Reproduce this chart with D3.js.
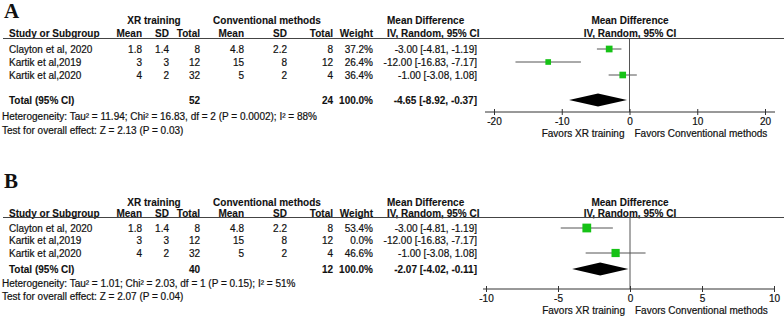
<!DOCTYPE html>
<html>
<head>
<meta charset="utf-8">
<script src="https://d3js.org/d3.v7.min.js"></script>
<style>
  body { margin: 0; background: #fff; }
  svg text { font-family: "Liberation Sans", Arial, sans-serif; font-size: 10px; fill: #111; stroke: #111; stroke-width: 0.2px; }
  .hd { font-weight: bold; stroke-width: 0.1px; }
</style>
</head>
<body>
<div id="chart"></div>
<script>

// study rows (same for both panels)
var studies = ["Clayton et al, 2020", "Kartik et al,2019", "Kartik et al,2020"];
var xrMean = [1.8, 3, 4];
var xrSD = [1.4, 3, 2];
var xrTotal = [8, 12, 32];
var convMean = [4.8, 15, 5];
var convSD = [2.2, 8, 2];
var convTotal = [8, 12, 4];
var md = [-3.00, -12.00, -1.00];
var mdLow = [-4.81, -16.83, -3.08];
var mdHigh = [-1.19, -7.17, 1.08];

// panel A
var weightA = [37.2, 26.4, 36.4];
var totalA = [-4.65, -8.92, -0.37];
var nTotalA = [52, 24];
var hetA = "Heterogeneity: Tau² = 11.94; Chi² = 16.83, df = 2 (P = 0.0002); I² = 88%";
var testA = "Test for overall effect: Z = 2.13 (P = 0.03)";
var ticksA = [-20, -10, 0, 10, 20];

// panel B
var weightB = [53.4, 0.0, 46.6];
var totalB = [-2.07, -4.02, -0.11];
var nTotalB = [40, 12];
var hetB = "Heterogeneity: Tau² = 1.01; Chi² = 2.03, df = 1 (P = 0.15); I² = 51%";
var testB = "Test for overall effect: Z = 2.07 (P = 0.04)";
var ticksB = [-10, -5, 0, 5, 10];

var W = 784, H = 316;
var svg = d3.select("#chart").append("svg")
    .attr("width", W)
    .attr("height", H);

var fmt1 = function(v) { return String(v); };
var f2 = function(v) { return d3.format(".2f")(v).replace("−", "-"); };
var fmtMD = function(m, l, h) { return f2(m) + " [" + f2(l) + ", " + f2(h) + "]"; };

// right edges of the table columns
var col = { xrMean: 142, xrSD: 169, xrTotal: 200, cMean: 244, cSD: 287, cTotal: 333, weight: 373, md: 477 };

function panel(p) {
  var g = svg.append("g");

  g.append("text")
    .attr("x", 4).attr("y", p.letterY)
    .style("font-family", "'Liberation Serif', 'Times New Roman', serif")
    .style("font-size", "21px").style("font-weight", "bold").style("stroke-width", "0")
    .text(p.letter);

  // headers
  var h1 = p.head1, h2 = p.head2;
  g.append("text").attr("class", "hd").attr("x", 154).attr("y", h1).attr("dy", "0.35em").attr("text-anchor", "middle").text("XR training");
  g.append("text").attr("class", "hd").attr("x", 267).attr("y", h1).attr("dy", "0.35em").attr("text-anchor", "middle").text("Conventional methods");
  g.append("text").attr("class", "hd").attr("x", 387).attr("y", h1).attr("dy", "0.35em").text("Mean Difference");
  g.append("text").attr("class", "hd").attr("x", 630).attr("y", h1).attr("dy", "0.35em").attr("text-anchor", "middle").text("Mean Difference");

  g.append("text").attr("class", "hd").attr("x", 9).attr("y", h2).attr("dy", "0.35em").text("Study or Subgroup");
  [["Mean", col.xrMean], ["SD", col.xrSD], ["Total", col.xrTotal], ["Mean", col.cMean],
   ["SD", col.cSD], ["Total", col.cTotal], ["Weight", col.weight]].forEach(function(c) {
    g.append("text").attr("class", "hd").attr("x", c[1]).attr("y", h2).attr("dy", "0.35em").attr("text-anchor", "end").text(c[0]);
  });
  g.append("text").attr("class", "hd").attr("x", 387).attr("y", h2).attr("dy", "0.35em").text("IV, Random, 95% CI");
  g.append("text").attr("class", "hd").attr("x", 630).attr("y", h2).attr("dy", "0.35em").attr("text-anchor", "middle").text("IV, Random, 95% CI");

  g.append("line")
    .attr("x1", 3).attr("x2", W).attr("y1", p.rule).attr("y2", p.rule)
    .attr("stroke", "#444").attr("stroke-width", 1);

  // scales
  var x = d3.scaleLinear().domain(d3.extent(p.ticks)).range([p.x0, p.x1]);
  var y = d3.scalePoint().domain(studies).range([p.rowTop, p.rowBottom]);
  var size = d3.scaleSqrt().domain([0, 100]).range([0, p.boxMax]);

  // table rows
  var rows = g.selectAll(".row").data(studies).enter().append("g").attr("class", "row")
    .attr("transform", function(d) { return "translate(0," + y(d) + ")"; });
  rows.append("text").attr("x", 9).attr("dy", "0.35em").text(function(d) { return d; });
  var cells = [[xrMean, col.xrMean], [xrSD, col.xrSD], [xrTotal, col.xrTotal], [convMean, col.cMean],
               [convSD, col.cSD], [convTotal, col.cTotal]];
  cells.forEach(function(c) {
    rows.append("text").attr("x", c[1]).attr("dy", "0.35em").attr("text-anchor", "end")
      .text(function(d, i) { return fmt1(c[0][i]); });
  });
  rows.append("text").attr("x", col.weight).attr("dy", "0.35em").attr("text-anchor", "end")
    .text(function(d, i) { return d3.format(".1f")(p.weight[i]) + "%"; });
  rows.append("text").attr("x", col.md).attr("dy", "0.35em").attr("text-anchor", "end")
    .text(function(d, i) { return fmtMD(md[i], mdLow[i], mdHigh[i]); });

  // total row
  g.append("text").attr("class", "hd").attr("x", 9).attr("y", p.totalY).attr("dy", "0.35em").text("Total (95% CI)");
  g.append("text").attr("class", "hd").attr("x", col.xrTotal).attr("y", p.totalY).attr("dy", "0.35em").attr("text-anchor", "end").text(p.nTotal[0]);
  g.append("text").attr("class", "hd").attr("x", col.cTotal).attr("y", p.totalY).attr("dy", "0.35em").attr("text-anchor", "end").text(p.nTotal[1]);
  g.append("text").attr("class", "hd").attr("x", col.weight).attr("y", p.totalY).attr("dy", "0.35em").attr("text-anchor", "end").text("100.0%");
  g.append("text").attr("class", "hd").attr("x", col.md).attr("y", p.totalY).attr("dy", "0.35em").attr("text-anchor", "end").text(fmtMD(p.total[0], p.total[1], p.total[2]));
  g.append("text").attr("x", 2).attr("y", p.hetY).attr("dy", "0.35em").text(p.het);
  g.append("text").attr("x", 2).attr("y", p.testY).attr("dy", "0.35em").text(p.test);

  // zero line
  g.append("line")
    .attr("x1", x(0)).attr("x2", x(0)).attr("y1", p.rule).attr("y2", p.axisY)
    .attr("stroke", "#555").attr("stroke-width", 1);

  // confidence intervals and boxes (studies with 0% weight are not drawn)
  var plotted = studies.filter(function(d, i) { return p.weight[i] > 0; });
  var idx = function(d) { return studies.indexOf(d); };
  g.selectAll(".ci").data(plotted).enter().append("line")
    .attr("x1", function(d) { return x(mdLow[idx(d)]); })
    .attr("x2", function(d) { return x(mdHigh[idx(d)]); })
    .attr("y1", function(d) { return y(d); })
    .attr("y2", function(d) { return y(d); })
    .attr("stroke", "#555").attr("stroke-width", 1);
  g.selectAll(".box").data(plotted).enter().append("rect")
    .attr("x", function(d) { return x(md[idx(d)]) - size(p.weight[idx(d)]) / 2; })
    .attr("y", function(d) { return y(d) - size(p.weight[idx(d)]) / 2; })
    .attr("width", function(d) { return size(p.weight[idx(d)]); })
    .attr("height", function(d) { return size(p.weight[idx(d)]); })
    .attr("fill", "#16c216");

  // pooled diamond
  var t = p.total, dh = 6.5;
  g.append("path")
    .attr("d", "M" + x(t[1]) + "," + p.totalY + "L" + x(t[0]) + "," + (p.totalY - dh) +
               "L" + x(t[2]) + "," + p.totalY + "L" + x(t[0]) + "," + (p.totalY + dh) + "Z")
    .attr("fill", "#000");

  // axis
  var ax = g.append("g").attr("transform", "translate(0," + p.axisY + ")")
    .call(d3.axisBottom(x).tickValues(p.ticks).tickSize(3).tickPadding(3).tickFormat(d3.format("d")));
  ax.select(".domain").remove();
  ax.selectAll(".tick line").attr("y1", -3).attr("y2", 3).attr("stroke", "#333");
  ax.selectAll(".tick text").style("font-family", "'Liberation Sans', Arial, sans-serif")
    .style("font-size", "10px").style("fill", "#111").text(function(d) { return String(d); });
  ax.append("line")
    .attr("x1", p.x0 - p.axisPad[0]).attr("x2", p.x1 + p.axisPad[1])
    .attr("stroke", "#333").attr("stroke-width", 1);

  g.append("text").attr("x", x(0) - 5).attr("y", p.favY).attr("dy", "0.35em").attr("text-anchor", "end").text("Favors XR training");
  g.append("text").attr("x", x(0) + 5).attr("y", p.favY).attr("dy", "0.35em").text("Favors Conventional methods");
}

panel({
  letter: "A", letterY: 18, head1: 20, head2: 33, rule: 38.5,
  rowTop: 49, rowBottom: 75, totalY: 100, hetY: 116, testY: 130,
  axisY: 112, favY: 133, x0: 494, x1: 765, axisPad: [9, 10], boxMax: 11,
  weight: weightA, total: totalA, nTotal: nTotalA, het: hetA, test: testA, ticks: ticksA
});

panel({
  letter: "B", letterY: 188, head1: 202, head2: 213, rule: 217.5,
  rowTop: 228, rowBottom: 253, totalY: 269, hetY: 283, testY: 296,
  axisY: 289, favY: 310, x0: 486, x1: 774, axisPad: [3, 1], boxMax: 12,
  weight: weightB, total: totalB, nTotal: nTotalB, het: hetB, test: testB, ticks: ticksB
});

</script>
</body>
</html>
